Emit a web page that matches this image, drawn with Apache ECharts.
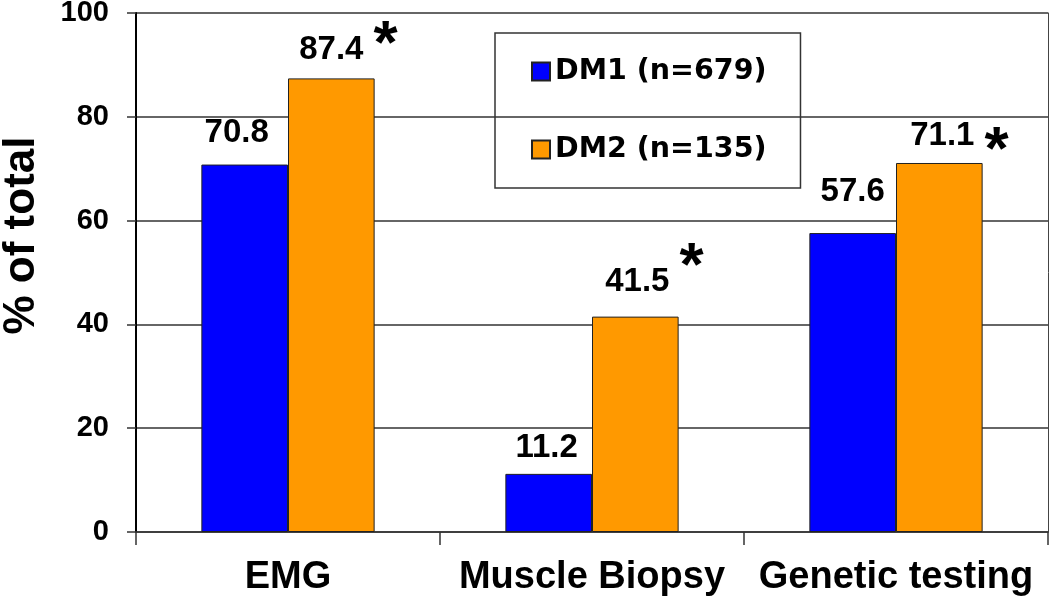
<!DOCTYPE html>
<html>
<head>
<meta charset="utf-8">
<script src="https://cdn.jsdelivr.net/npm/echarts@6/dist/echarts.min.js"></script>
<style>
	html, body { margin: 0; padding: 0; background: #fff; }
	#chart { width: 1050px; height: 599px; }
</style>
</head>
<body>
<div id="chart"></div>
<script>
var categories = ['EMG', 'Muscle Biopsy', 'Genetic testing'];
var dm1Values = [70.8, 11.2, 57.6];
var dm2Values = [87.4, 41.5, 71.1];
var dm2Significant = [true, true, true];
var yTicks = [0, 20, 40, 60, 80, 100];

// hand placement of the value labels, as in the original slide
var dm1LabelGap = [15, 9, 25];
var dm1LabelShift = [-8, -2, 0];
var dm2LabelGap = [11, 18, 10];
var dm2LabelShift = [0, 2, 3];
var starLift = [8, 28, -32];

var FONT = '"Liberation Sans", Arial, sans-serif';

function starRich(lift) {
	var starPad = lift >= 0 ? [0, 0, lift, 10] : [-lift, 0, 0, 10];
	var ghostPad = lift >= 0 ? [0, 10, lift, 0] : [-lift, 10, 0, 0];
	return {
		n: { fontSize: 33, fontWeight: 'bold', fontFamily: FONT, color: '#000', lineHeight: 34 },
		s: { fontSize: 62, fontWeight: 'bold', fontFamily: FONT, color: '#000', lineHeight: 34, padding: starPad },
		g: { fontSize: 62, fontWeight: 'bold', fontFamily: FONT, color: 'rgba(0,0,0,0)', lineHeight: 34, padding: ghostPad }
	};
}

window.onload = function () {
	var myChart = echarts.init(document.getElementById('chart'), null, { renderer: 'canvas' });

	var dm1Data = dm1Values.map(function (v, i) {
		return {
			value: v,
			label: { distance: dm1LabelGap[i], offset: [dm1LabelShift[i], 0] }
		};
	});
	var dm2Data = dm2Values.map(function (v, i) {
		return {
			value: v,
			label: {
				distance: dm2LabelGap[i],
				offset: [dm2LabelShift[i], 0],
				rich: starRich(starLift[i])
			}
		};
	});

	var option = {
		animation: false,
		backgroundColor: '#fff',
		grid: { left: 136, right: 2, top: 13, bottom: 67, containLabel: false, outerBoundsMode: 'none' },
		legend: {
			orient: 'vertical',
			left: 495,
			top: 33,
			padding: [24, 34, 24, 36],
			itemGap: 49,
			itemWidth: 18,
			itemHeight: 18,
			icon: 'rect',
			borderColor: '#333',
			borderWidth: 1.5,
			backgroundColor: 'transparent',
			textStyle: {
				fontFamily: '"DejaVu Sans", sans-serif',
				fontWeight: 'bold',
				fontSize: 28.5,
				lineHeight: 28,
				color: '#000'
			},
			data: ['DM1 (n=679)', 'DM2 (n=135)']
		},
		xAxis: {
			type: 'category',
			data: categories,
			axisLine: { lineStyle: { color: '#333', width: 1.5 } },
			axisTick: { show: true, length: 13, lineStyle: { color: '#333', width: 1.5 } },
			axisLabel: {
				interval: 0,
				hideOverlap: false,
				margin: 27,
				color: '#000',
				fontFamily: FONT,
				fontWeight: 'bold',
				fontSize: 38
			}
		},
		yAxis: [{
			type: 'value',
			min: yTicks[0],
			max: yTicks[yTicks.length - 1],
			interval: yTicks[1] - yTicks[0],
			name: '% of total',
			nameLocation: 'middle',
			nameRotate: 90,
			nameGap: 92,
			nameTextStyle: {
				fontFamily: FONT,
				fontWeight: 'bold',
				fontSize: 44,
				color: '#000',
				padding: [0, 0, 0, 74]
			},
			axisLine: { show: true, lineStyle: { color: '#000', width: 2 } },
			axisTick: { show: true, length: 9, lineStyle: { color: '#333', width: 1.5 } },
			axisLabel: {
				margin: 27,
				color: '#000',
				fontFamily: FONT,
				fontWeight: 'bold',
				fontSize: 29
			},
			splitLine: { show: true, lineStyle: { color: '#333', width: 1.5 } }
		}, {
			type: 'value',
			position: 'right',
			min: yTicks[0],
			max: yTicks[yTicks.length - 1],
			interval: yTicks[1] - yTicks[0],
			axisLine: { show: true, lineStyle: { color: '#444', width: 1 } },
			axisTick: { show: false },
			axisLabel: { show: false },
			splitLine: { show: false }
		}],
		series: [{
			name: 'DM1 (n=679)',
			type: 'bar',
			barCategoryGap: '43%',
			barGap: 0,
			itemStyle: { color: '#0000ff', borderColor: '#222', borderWidth: 1 },
			label: {
				show: true,
				position: 'top',
				color: '#000',
				fontFamily: FONT,
				fontWeight: 'bold',
				fontSize: 33
			},
			data: dm1Data
		}, {
			name: 'DM2 (n=135)',
			type: 'bar',
			barCategoryGap: '43%',
			barGap: 0,
			itemStyle: { color: '#ff9900', borderColor: '#222', borderWidth: 1 },
			label: {
				show: true,
				position: 'top',
				formatter: function (p) {
					if (dm2Significant[p.dataIndex]) {
						return '{g|*}{n|' + p.value + '}{s|*}';
					}
					return '{n|' + p.value + '}';
				},
				rich: starRich(0)
			},
			data: dm2Data
		}]
	};

	myChart.setOption(option);
};
</script>
</body>
</html>
